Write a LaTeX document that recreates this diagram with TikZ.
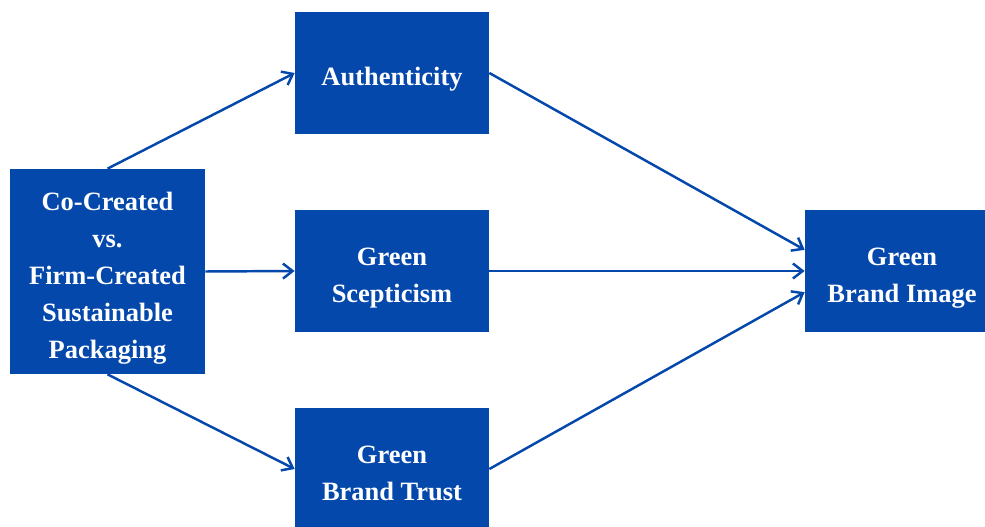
\documentclass[tikz,border=0pt]{standalone}
\usepackage{fontspec}
\setmainfont{Liberation Serif}
\usetikzlibrary{arrows.meta}
\definecolor{boxblue}{RGB}{4,72,171}
\tikzset{
	varbox/.style={fill=boxblue, draw=none, text=white, font=\fontsize{15}{21}\selectfont\bfseries, align=center, text depth=0pt, inner sep=0pt, minimum width=110pt, minimum height=69.2pt},
	path/.style={draw=boxblue, line width=1.4pt, -{Straight Barb[length=5.5pt,width=8.5pt,line width=1.4pt]}}
}

\begin{document}
\begin{tikzpicture}[x=0.567pt, y=-0.567pt]
		%%%%% START %%%%%
		
		\useasboundingbox (0, 0) rectangle (985, 527);
		\clip (0, 0) rectangle (985, 527);
		
		% \strut on the first line pushes the text a bit lower in the box
		\node[varbox, minimum width=110.6pt, minimum height=116.2pt] (packaging) at (107.5, 271.5) {\strut Co-Created\\vs.\\Firm-Created\\Sustainable\\Packaging};
		
		\node[varbox] (authenticity) at (392, 73) {\strut Authenticity};
		\node[varbox] (scepticism) at (392, 271) {\strut Green\\Scepticism};
		\node[varbox] (trust) at (392, 469) {\strut Green\\Brand Trust};
		
		\node[varbox] (image) at (902, 271) {\strut Green\\Brand Image};
		
		\draw[path] (packaging.north) -- (authenticity.west);
		\draw[path] (packaging.east) -- (scepticism.west);
		\draw[path] (packaging.south) -- (trust.west);
		
		\draw[path] (authenticity.east) -- ([yshift=12pt]image.west);
		\draw[path] (scepticism.east) -- (image.west);
		\draw[path] (trust.east) -- ([yshift=-12pt]image.west);
		
		%%%%% END %%%%%
	\end{tikzpicture}
\end{document}
